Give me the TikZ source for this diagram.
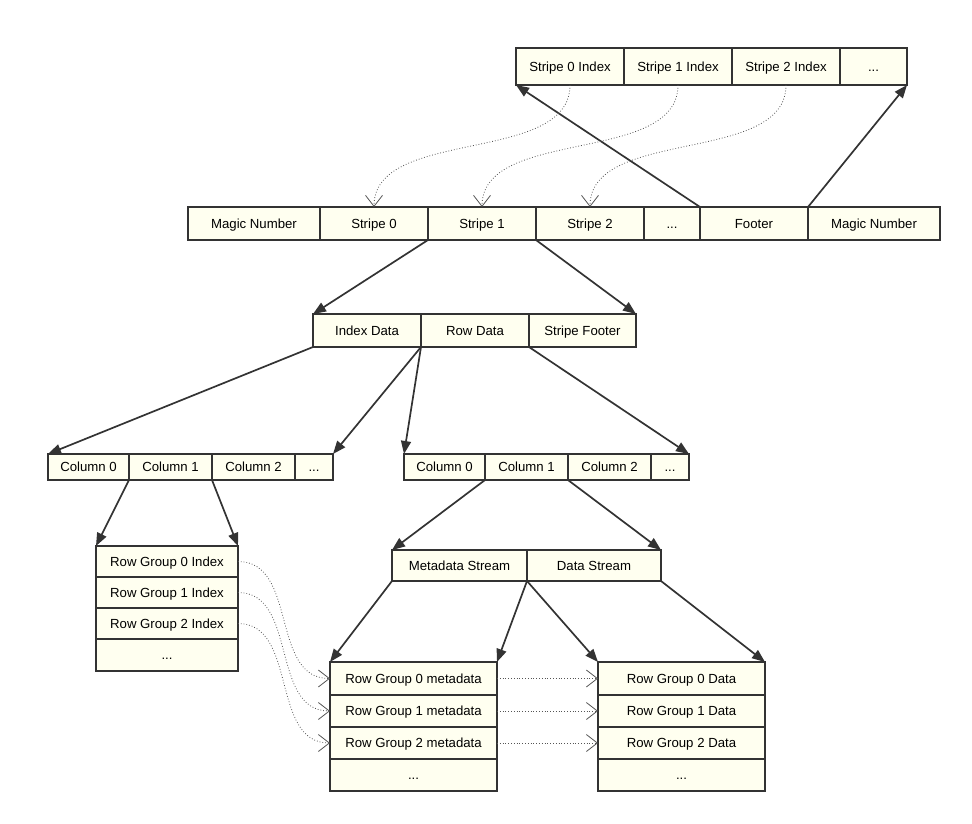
\documentclass[tikz,border=0pt]{standalone}
\usepackage{fontspec}
\setmainfont{Liberation Sans}
\usepackage{tikz}
\usetikzlibrary{arrows.meta}
\definecolor{CellFill}{HTML}{FFFFF0}
\definecolor{CellLine}{HTML}{333333}
\definecolor{LinkGray}{HTML}{555555}

\begin{document}
\begin{tikzpicture}[x=1pt,y=-1pt,font=\fontsize{13.2}{15}\selectfont,
  cell/.style={draw=CellLine,fill=CellFill,line width=1.6pt,inner sep=0pt,outer sep=0pt,
    text height=9.5pt,text depth=0pt},
  link/.style={draw=CellLine,line width=1.7pt,-{Triangle[length=13pt,width=10pt]}},
  ref/.style={draw=LinkGray,line width=.8pt,dotted,
    -{Straight Barb[length=11pt,width=17pt,line width=.8pt]}}]
\useasboundingbox (0,0) rectangle (972,824);

% ================= stripe index (file tail) =================
\node[cell,minimum width=108pt,minimum height=37pt] (s0i) at (570,66.5) {Stripe 0 Index};
\node[cell,minimum width=108pt,minimum height=37pt] (s1i) at (678,66.5) {Stripe 1 Index};
\node[cell,minimum width=108pt,minimum height=37pt] (s2i) at (786,66.5) {Stripe 2 Index};
\node[cell,minimum width=67pt,minimum height=37pt] (sdi) at (873.5,66.5) {...};

% ================= file layout =================
\node[cell,minimum width=132pt,minimum height=33pt] (magicA) at (254,223.5) {Magic Number};
\node[cell,minimum width=108pt,minimum height=33pt] (st0) at (374,223.5) {Stripe 0};
\node[cell,minimum width=108pt,minimum height=33pt] (st1) at (482,223.5) {Stripe 1};
\node[cell,minimum width=108pt,minimum height=33pt] (st2) at (590,223.5) {Stripe 2};
\node[cell,minimum width=56pt,minimum height=33pt] (stdots) at (672,223.5) {...};
\node[cell,minimum width=108pt,minimum height=33pt] (footer) at (754,223.5) {Footer};
\node[cell,minimum width=132pt,minimum height=33pt] (magicB) at (874,223.5) {Magic Number};

% ================= one stripe =================
\node[cell,minimum width=108pt,minimum height=33pt] (idx) at (367,330.5) {Index Data};
\node[cell,minimum width=108pt,minimum height=33pt] (rowd) at (475,330.5) {Row Data};
\node[cell,minimum width=107pt,minimum height=33pt] (sfoot) at (582.5,330.5) {Stripe Footer};

% ================= columns =================
\node[cell,minimum width=81pt,minimum height=26pt] (lc0) at (88.5,467) {Column 0};
\node[cell,minimum width=83pt,minimum height=26pt] (lc1) at (170.5,467) {Column 1};
\node[cell,minimum width=83pt,minimum height=26pt] (lc2) at (253.5,467) {Column 2};
\node[cell,minimum width=38pt,minimum height=26pt] (lcd) at (314,467) {...};
\node[cell,minimum width=81pt,minimum height=26pt] (rc0) at (444.5,467) {Column 0};
\node[cell,minimum width=83pt,minimum height=26pt] (rc1) at (526.5,467) {Column 1};
\node[cell,minimum width=83pt,minimum height=26pt] (rc2) at (609.5,467) {Column 2};
\node[cell,minimum width=38pt,minimum height=26pt] (rcd) at (670,467) {...};

% ================= streams =================
\node[cell,minimum width=135pt,minimum height=31pt] (meta) at (459.5,565.5) {Metadata Stream};
\node[cell,minimum width=134pt,minimum height=31pt] (data) at (594,565.5) {Data Stream};

% ================= row groups =================
\foreach \i/\y in {0/561.5,1/592.5,2/623.5}{
  \node[cell,minimum width=142pt,minimum height=31pt] (rgi\i) at (167,\y) {Row Group \i\ Index};}
\node[cell,minimum width=142pt,minimum height=32pt] (rgidots) at (167,655) {...};
\foreach \i/\y/\h in {0/678.5/33,1/711/32,2/743/32}{
  \node[cell,minimum width=167pt,minimum height=\h pt] (rgm\i) at (413.5,\y) {Row Group \i\ metadata};
  \node[cell,minimum width=167pt,minimum height=\h pt] (rgd\i) at (681.5,\y) {Row Group \i\ Data};}
\node[cell,minimum width=167pt,minimum height=32pt] (rgmdots) at (413.5,775) {...};
\node[cell,minimum width=167pt,minimum height=32pt] (rgddots) at (681.5,775) {...};

% ================= solid links =================
\draw[link] (footer.north west) -- (s0i.south west);
\draw[link] (magicB.north west) -- (sdi.south east);
\draw[link] (st1.south west) -- (idx.north west);
\draw[link] (st1.south east) -- (sfoot.north east);
\draw[link] (idx.south west) -- (lc0.north west);
\draw[link] (rowd.south west) -- (lcd.north east);
\draw[link] (rowd.south west) -- (rc0.north west);
\draw[link] (rowd.south east) -- (rcd.north east);
\draw[link] (lc1.south west) -- (rgi0.north west);
\draw[link] (lc2.south west) -- (rgi0.north east);
\draw[link] (rc1.south west) -- (meta.north west);
\draw[link] (rc2.south west) -- (data.north east);
\draw[link] (meta.south west) -- (rgm0.north west);
\draw[link] (data.south west) -- (rgm0.north east);
\draw[link] (data.south west) -- (rgd0.north west);
\draw[link] (data.south east) -- (rgd0.north east);

% ================= dotted references =================
\foreach \a/\b in {s0i/st0,s1i/st1,s2i/st2}{
  \draw[ref] (\a.south) .. controls ([yshift=-80pt]\a.south) and ([yshift=80pt]\b.north) .. (\b.north);}
\foreach \i in {0,1,2}{
  \draw[ref] (rgi\i.east) .. controls ([xshift=60pt]rgi\i.east) and ([xshift=-60pt]rgm\i.west) .. (rgm\i.west);
  \draw[ref] (rgm\i.east) -- (rgd\i.west);}
\end{tikzpicture}
\end{document}
